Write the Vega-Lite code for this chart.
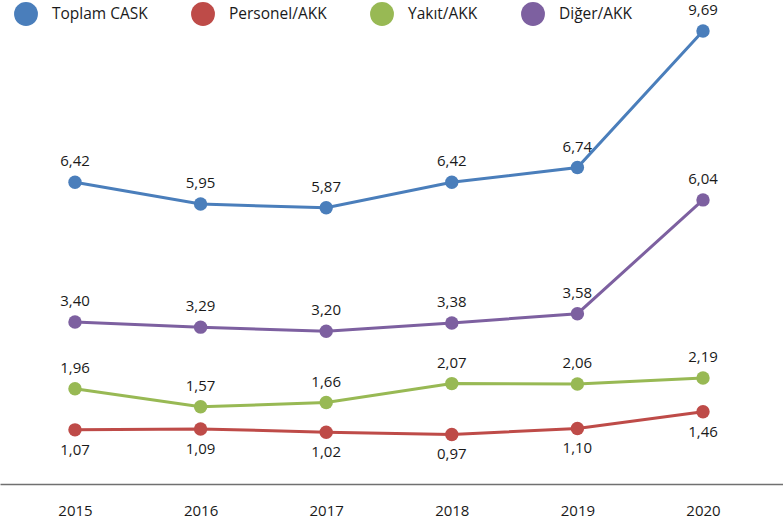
{
  "$schema": "https://vega.github.io/schema/vega-lite/v6.json",
  "autosize": {"type": "none"},
  "padding": {"left": 0, "top": 0, "right": 0, "bottom": 42},
  "width": 783,
  "height": 484,
  "background": "white",
  "config": {
    "view": {"stroke": null},
    "font": "Open Sans",
    "locale": {"number": {"decimal": ",", "thousands": ".", "grouping": [3], "currency": ["", ""]}}
  },
  "data": {"values": [
    {"year": 2015, "series": "Toplam CASK", "value": 6.42},
    {"year": 2016, "series": "Toplam CASK", "value": 5.95},
    {"year": 2017, "series": "Toplam CASK", "value": 5.87},
    {"year": 2018, "series": "Toplam CASK", "value": 6.42},
    {"year": 2019, "series": "Toplam CASK", "value": 6.74},
    {"year": 2020, "series": "Toplam CASK", "value": 9.69},
    {"year": 2015, "series": "Personel/AKK", "value": 1.07},
    {"year": 2016, "series": "Personel/AKK", "value": 1.09},
    {"year": 2017, "series": "Personel/AKK", "value": 1.02},
    {"year": 2018, "series": "Personel/AKK", "value": 0.97},
    {"year": 2019, "series": "Personel/AKK", "value": 1.10},
    {"year": 2020, "series": "Personel/AKK", "value": 1.46},
    {"year": 2015, "series": "Yakıt/AKK", "value": 1.96},
    {"year": 2016, "series": "Yakıt/AKK", "value": 1.57},
    {"year": 2017, "series": "Yakıt/AKK", "value": 1.66},
    {"year": 2018, "series": "Yakıt/AKK", "value": 2.07},
    {"year": 2019, "series": "Yakıt/AKK", "value": 2.06},
    {"year": 2020, "series": "Yakıt/AKK", "value": 2.19},
    {"year": 2015, "series": "Diğer/AKK", "value": 3.40},
    {"year": 2016, "series": "Diğer/AKK", "value": 3.29},
    {"year": 2017, "series": "Diğer/AKK", "value": 3.20},
    {"year": 2018, "series": "Diğer/AKK", "value": 3.38},
    {"year": 2019, "series": "Diğer/AKK", "value": 3.58},
    {"year": 2020, "series": "Diğer/AKK", "value": 6.04}
  ]},
  "encoding": {
    "x": {
      "field": "year", "type": "quantitative",
      "scale": {"domain": [2014.403, 2020.637], "nice": false, "zero": false},
      "axis": {
        "title": null, "values": [2015, 2016, 2017, 2018, 2019, 2020], "format": "d",
        "grid": false, "ticks": false, "labelPadding": 19, "labelFontSize": 15,
        "labelColor": "#1a1a1a", "domainColor": "#707070", "domainWidth": 1.5,
        "labelFont": "Open Sans"
      }
    },
    "y": {
      "field": "value", "type": "quantitative",
      "scale": {"domain": [-0.10, 10.36], "nice": false, "zero": false},
      "axis": null
    },
    "color": {
      "field": "series", "type": "nominal",
      "scale": {
        "domain": ["Toplam CASK", "Personel/AKK", "Yakıt/AKK", "Diğer/AKK"],
        "range": ["#4a7ebb", "#be4b48", "#98b954", "#7d60a0"]
      },
      "legend": {
        "title": null, "orient": "none", "legendX": 14, "legendY": 2,
        "direction": "horizontal", "columns": 4, "padding": 0,
        "symbolType": "circle", "symbolSize": 570, "symbolStrokeWidth": 0,
        "symbolOpacity": 1, "labelFontSize": 15.5, "labelOffset": 14,
        "columnPadding": 43, "labelColor": "#1a1a1a", "labelFont": "Open Sans",
        "labelLimit": 200
      }
    }
  },
  "layer": [
    {"mark": {"type": "line", "strokeWidth": 3}},
    {"mark": {"type": "point", "filled": true, "opacity": 1, "size": 180}},
    {
      "transform": [{"filter": "datum.series !== 'Personel/AKK'"}],
      "mark": {"type": "text", "dy": -21, "fontSize": 15, "color": "#1a1a1a"},
      "encoding": {"text": {"field": "value", "type": "quantitative", "format": ".2f"}, "color": {"value": "#1a1a1a"}}
    },
    {
      "transform": [{"filter": "datum.series === 'Personel/AKK'"}],
      "mark": {"type": "text", "dy": 20, "fontSize": 15, "color": "#1a1a1a"},
      "encoding": {"text": {"field": "value", "type": "quantitative", "format": ".2f"}, "color": {"value": "#1a1a1a"}}
    }
  ]
}
